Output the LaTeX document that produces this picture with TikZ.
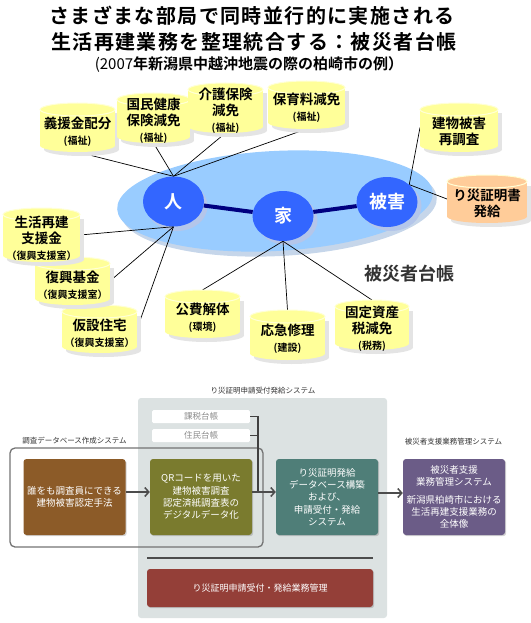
\documentclass[tikz,border=0pt]{standalone}
\usepackage{fontspec}
\setmainfont{Noto Sans CJK JP}[BoldFont={Noto Sans CJK JP Bold}]
\usetikzlibrary{arrows.meta,shadows,shapes.geometric}
\pgfdeclarelayer{back}
\pgfdeclarelayer{lines}
\pgfsetlayers{back,lines,main}
\definecolor{drumY}{HTML}{FFFF99}
\definecolor{drumO}{HTML}{FFCC99}
\definecolor{drumS}{HTML}{E4E4E4}
\definecolor{ellC}{HTML}{99CCFF}
\definecolor{ellS}{HTML}{C6D6EA}
\definecolor{circC}{HTML}{3366FF}
\definecolor{circS}{HTML}{B4C6EA}
\definecolor{navyC}{HTML}{000080}
\definecolor{panelC}{HTML}{DCE2E2}
\definecolor{brownC}{HTML}{8C5B28}
\definecolor{oliveC}{HTML}{7A7B2E}
\definecolor{tealC}{HTML}{4F7E78}
\definecolor{purpC}{HTML}{6B5C87}
\definecolor{redC}{HTML}{943F38}
\definecolor{lblC}{HTML}{333333}
\definecolor{rimC}{HTML}{FFFFD6}
\tikzset{
  drumbox/.style={inner sep=0pt, outer sep=0pt},
  drumtext/.style={font=\bfseries\fontsize{13.5}{16}\selectfont, align=center, inner sep=0pt},
  circ/.style={ellipse, fill=circC, inner sep=0pt, minimum width=61pt, minimum height=50pt,
    text=white, font=\bfseries\fontsize{18}{20}\selectfont},
  thin/.style={black, line width=0.7pt},
  thick/.style={navyC, line width=4pt},
  flowbox/.style={rounded corners=3pt, inner sep=0pt, text=white, align=center,
    font=\fontsize{9.5}{12.3}\selectfont, minimum width=102pt, minimum height=76pt,
    drop shadow={shadow xshift=1.2pt, shadow yshift=-1.2pt, opacity=0.35}},
  wbox/.style={fill=white, rounded corners=1.5pt, minimum width=98pt, minimum height=13pt,
    inner sep=0pt, text=black!45, font=\fontsize{8.5}{10}\selectfont},
  syslabel/.style={text=lblC, font=\fontsize{7.5}{9}\selectfont, inner sep=0pt},
  farrow/.style={draw=black!70, line width=1.5pt, -{Straight Barb[length=4pt,width=9pt,line width=1.5pt]}},
}
\newcommand\sm[1]{{\fontsize{10}{12}\selectfont #1}}
\newcommand\drum[8]{%
  \pgfmathsetmacro\dcx{(#2+#4)/2}%
  \pgfmathsetmacro\drx{(#4-#2)/2}%
  \pgfmathsetmacro\dcy{(#3+#5)/2}%
  \pgfmathsetmacro\dw{#4-#2}%
  \pgfmathsetmacro\dh{#5-#3}%
  \pgfmathsetmacro\dta{#3+6.5}%
  \pgfmathsetmacro\dba{#5-6.5}%
  \fill[drumS] (#2+4,\dta+4) rectangle (#4+4,\dba+4);
  \fill[drumS] (\dcx+4,\dba+4) ellipse [x radius=\drx, y radius=6.5];
  \fill[#6] (#2,\dta) rectangle (#4,\dba);
  \fill[#6] (\dcx,\dba) ellipse [x radius=\drx, y radius=6.5];
  \fill[#6] (\dcx,\dta) ellipse [x radius=\drx, y radius=6.5];
  \draw[rimC, line width=1pt] (\dcx,\dta) ellipse [x radius=\drx, y radius=6.5];
  \node[drumbox, minimum width=\dw pt, minimum height=\dh pt] (#1) at (\dcx,\dcy) {};
  \node[drumtext] (#1t) at (\dcx,\dcy+#7) {#8};
}
\begin{document}
\begin{tikzpicture}[x=1pt,y=-1pt]
\useasboundingbox (0,0) rectangle (530,623);
% title
\node[inner sep=0pt, font=\bfseries\fontsize{20}{24}\selectfont\addfontfeature{LetterSpace=7}] (t1) at (252,16) {さまざまな部局で同時並行的に実施される};
\node[inner sep=0pt, font=\bfseries\fontsize{20}{24}\selectfont\addfontfeature{LetterSpace=7}] (t2) at (254,42) {生活再建業務を整理統合する：被災者台帳};
\node[inner sep=0pt, font=\fontsize{15}{18}\selectfont] (t3) at (249,65) {(2007\textbf{年新潟県中越沖地震の際の柏崎市の例）}};
% big ellipse
\begin{pgfonlayer}{back}
\fill[ellS, rotate around={3:(279,206)}] (279,206) ellipse [x radius=158, y radius=50];
\fill[ellC, rotate around={3:(275,201)}] (275,201) ellipse [x radius=158, y radius=50];
\fill[circS] (177,206) ellipse [x radius=30.5, y radius=25];
\fill[circS] (287,220) ellipse [x radius=30.5, y radius=25];
\fill[circS] (391,206) ellipse [x radius=30.5, y radius=25];
\end{pgfonlayer}
% circles
\node[circ] (p) at (173.5,201.5) {人};
\node[circ] (h) at (283,216) {家};
\node[circ] (hm) at (387,202) {被害};
\node[inner sep=0pt, text=lblC, font=\bfseries\fontsize{18}{20}\selectfont] (lbl) at (409,274) {被災者台帳};
% drums
\drum{c1}{40}{103}{115}{152}{drumY}{4.5}{義援金配分\\\sm{(福祉)}}
\drum{c2}{117}{93}{190}{143}{drumY}{3}{国民健康\\保険減免\\\sm{(福祉)}}
\drum{c3}{188}{83}{263}{133}{drumY}{3}{介護保険\\減免\\\sm{(福祉)}}
\drum{c4}{268}{81}{345}{129}{drumY}{3}{保育料減免\\\sm{(福祉)}}
\drum{c5}{420}{103}{498}{152}{drumY}{4}{建物被害\\再調査}
\drum{c6}{447}{175}{527}{223}{drumO}{4}{り災証明書\\発給}
\drum{c9}{62}{305}{137}{353}{drumY}{4}{仮設住宅\\\sm{（復興支援室）}}
\drum{c8}{35}{257}{110}{305}{drumY}{4}{復興基金\\\sm{（復興支援室）}}
\drum{c7}{3}{208}{80}{262}{drumY}{3}{生活再建\\支援金\\\sm{（復興支援室）}}
\drum{c10}{165}{290}{240}{338}{drumY}{4}{公費解体\\\sm{(環境)}}
\drum{c11}{250}{310}{325}{360}{drumY}{4}{応急修理\\\sm{(建設)}}
\drum{c12}{335}{300}{409}{350}{drumY}{4}{固定資産\\税減免\\\sm{(税務)}}
% connectors
\begin{pgfonlayer}{lines}
\draw[thin] (c1.south) -- (p.north);
\draw[thin] (c2.south) -- (p.north);
\draw[thin] (c3.south) -- (p.north);
\draw[thin] (c4.south) -- (p.north);
\draw[thin] (c7.east) -- (p.south);
\draw[thin] (c8.east) -- (p.south);
\draw[thin] (c9.east) -- (p.south);
\draw[thin] (c10.north) -- (h.south);
\draw[thin] (c11.north) -- (h.south);
\draw[thin] (c12.north) -- (h.south);
\draw[thin] (c5.west) -- (hm.38);
\draw[thin] (c6.west) -- (hm.38);
\draw[thick] (p) -- (h);
\draw[thick] (h) -- (hm);
\end{pgfonlayer}
% ---------- lower flow ----------
\fill[panelC, rounded corners=3pt] (138,398) rectangle (387,618);
\node[syslabel] (l1) at (263,391) {り災証明申請受付発給システム};
\node[syslabel] (l2) at (74.5,441) {調査データベース作成システム};
\node[syslabel] (l3) at (453.5,442) {被災者支援業務管理システム};
\node[wbox] (kz) at (201,416.5) {課税台帳};
\node[wbox] (jm) at (201,435.5) {住民台帳};
\draw[black!55, line width=1.3pt, rounded corners=5pt] (10,448) rectangle (263,547);
\node[flowbox, fill=brownC] (b1) at (74.5,497) {誰をも調査員にできる\\建物被害認定手法};
\node[flowbox, fill=oliveC] (b2) at (201,497) {QRコードを用いた\\建物被害調査\\認定済紙調査表の\\デジタルデータ化};
\node[flowbox, fill=tealC] (b3) at (327,497) {り災証明発給\\データベース構築\\および、\\申請受付・発給\\システム};
\node[flowbox, fill=purpC] (b4) at (454,497) {被災者支援\\業務管理システム\\[5pt]新潟県柏崎市における\\生活再建支援業務の\\全体像};
\coordinate (jn) at (258,492);
\draw[black!75, line width=1.2pt] (kz.east) -- (kz.east -| jn) -- (jn);
\draw[black!75, line width=1.2pt] (jm.east) -- (jm.east -| jn);
\draw[farrow] ([yshift=5pt]b1.east) -- ([yshift=5pt]b2.west);
\draw[farrow] ([yshift=5pt]b2.east) -- ([yshift=5pt]b3.west);
\draw[farrow] ([yshift=4pt]b3.east) -- ([yshift=4pt]b4.west);
\draw[black!70, line width=1.5pt] (147,558) -- (373,558);
\node[flowbox, fill=redC, minimum width=226pt, minimum height=38pt, font=\fontsize{9}{11}\selectfont] (b5) at (260,588) {り災証明申請受付・発給業務管理};
\end{tikzpicture}
\end{document}
